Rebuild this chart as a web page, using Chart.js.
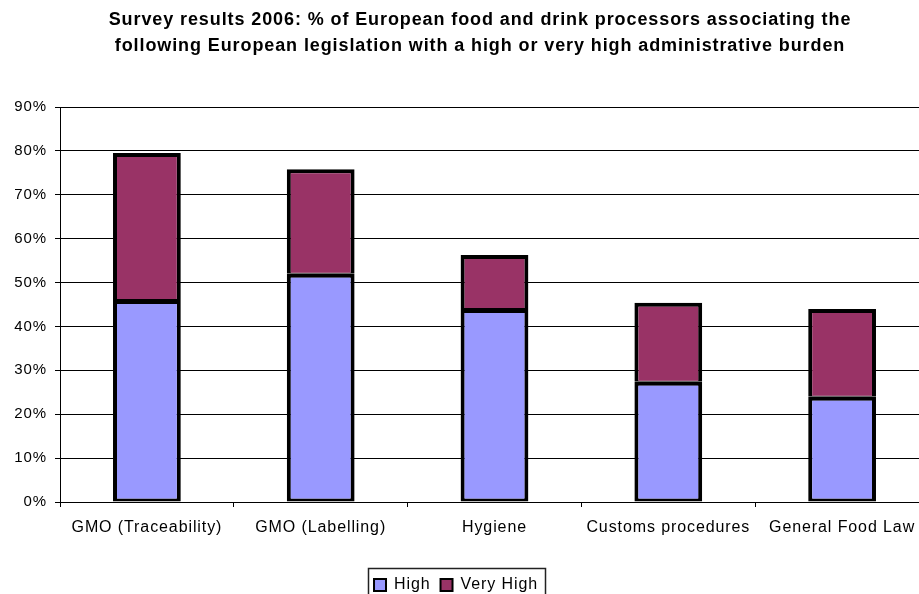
<!DOCTYPE html>
<html>
<head>
<meta charset="utf-8">
<script src="https://cdn.jsdelivr.net/npm/chart.js@4"></script>
<style>
html,body{margin:0;padding:0;overflow:hidden;background:#fff;}
#wrap{width:960px;height:594px;position:relative;}
</style>
</head>
<body>
<div id="wrap"><canvas id="c"></canvas></div>
<script>
const titleLines = [
  'Survey results 2006: % of European food and drink processors associating the',
  'following European legislation with a high or very high administrative burden'
];
const categories = ['GMO (Traceability)', 'GMO (Labelling)', 'Hygiene', 'Customs procedures', 'General Food Law'];
const seriesNames = ['High', 'Very High'];
const highValues = [46, 52, 44, 27.4, 24];
const veryHighValues = [33.5, 23.8, 12.3, 18, 20];
const yTickValues = [0, 10, 20, 30, 40, 50, 60, 70, 80, 90];

const FONT = "'Liberation Sans', Arial, sans-serif";
const LS = '0.9px';

const helperPlugin = {
  id: 'helper',
  beforeUpdate(chart) { chart.ctx.letterSpacing = LS; },
  beforeLayout(chart) { chart.ctx.letterSpacing = LS; },
  beforeDraw(chart) { chart.ctx.letterSpacing = LS; },
  afterLayout(chart) {
    const lg = chart.legend;
    if (!lg) return;
    lg.left -= 24; lg.right -= 24;
    const h = lg.height;
    lg.top = 567; lg.bottom = 567 + h;
  },
  afterDraw(chart) {
    const lg = chart.legend;
    if (!lg || !lg.legendHitBoxes || !lg.legendHitBoxes.length) return;
    const hb = lg.legendHitBoxes;
    const first = hb[0], last = hb[hb.length - 1];
    const ctx = chart.ctx;
    ctx.save();
    ctx.strokeStyle = '#222';
    ctx.lineWidth = 1.5;
    const x0 = Math.round(first.left) - 5.5;
    const x1 = Math.round(last.left + last.width) + 7.5;
    ctx.strokeRect(x0, 568.5, x1 - x0, 40);
    ctx.restore();
  }
};

new Chart(document.getElementById('c'), {
  type: 'bar',
  data: {
    labels: categories,
    datasets: [
      {
        label: seriesNames[0],
        data: highValues,
        backgroundColor: '#9999FF',
        borderColor: '#000',
        borderWidth: {top: 4, left: 4, right: 4, bottom: 3},
        borderSkipped: false,
        categoryPercentage: 1,
        barPercentage: 0.39
      },
      {
        label: seriesNames[1],
        data: veryHighValues,
        backgroundColor: '#993366',
        borderColor: '#000',
        borderWidth: {top: 4, left: 4, right: 4, bottom: 1},
        borderSkipped: false,
        categoryPercentage: 1,
        barPercentage: 0.39
      }
    ]
  },
  options: {
    responsive: true,
    maintainAspectRatio: false,
    animation: false,
    devicePixelRatio: 1,
    layout: {padding: 0},
    plugins: {
      title: {
        display: true,
        text: titleLines,
        color: '#000',
        font: {family: FONT, size: 18, weight: 'bold', lineHeight: 26 / 18},
        padding: {top: 7, bottom: 48}
      },
      legend: {
        display: true,
        position: 'bottom',
        labels: {
          color: '#000',
          font: {family: FONT, size: 16},
          boxWidth: 12,
          boxHeight: 12,
          padding: 10,
          generateLabels(chart) {
            return chart.data.datasets.map((ds, i) => ({
              text: ds.label,
              fillStyle: ds.backgroundColor,
              strokeStyle: '#000',
              lineWidth: 2,
              hidden: false,
              datasetIndex: i
            }));
          }
        }
      },
      tooltip: {enabled: false}
    },
    scales: {
      x: {
        stacked: true,
        grid: {drawOnChartArea: false, color: '#000', tickLength: 5, offset: true, lineWidth: 1},
        border: {color: '#000', width: 1},
        ticks: {color: '#000', font: {family: FONT, size: 16}, padding: 11, maxRotation: 0, autoSkip: false},
        afterFit(s) { s.height = 594 - 502 - s.chart.legend.height; }
      },
      y: {
        stacked: true,
        min: 0,
        max: 90,
        afterBuildTicks(s) { s.ticks = yTickValues.map(v => ({value: v})); },
        ticks: {color: '#000', font: {family: FONT, size: 15}, padding: 8, callback: v => v + '%'},
        grid: {color: '#000', lineWidth: 1, tickLength: 5, drawTicks: true},
        border: {color: '#000', width: 1},
        afterFit(s) { s.width = 60; }
      },
      yR: {
        type: 'linear',
        position: 'right',
        display: true,
        grid: {display: false},
        ticks: {display: false},
        border: {display: false},
        afterFit(s) { s.width = 31; }
      }
    }
  },
  plugins: [helperPlugin]
});
</script>
</body>
</html>
